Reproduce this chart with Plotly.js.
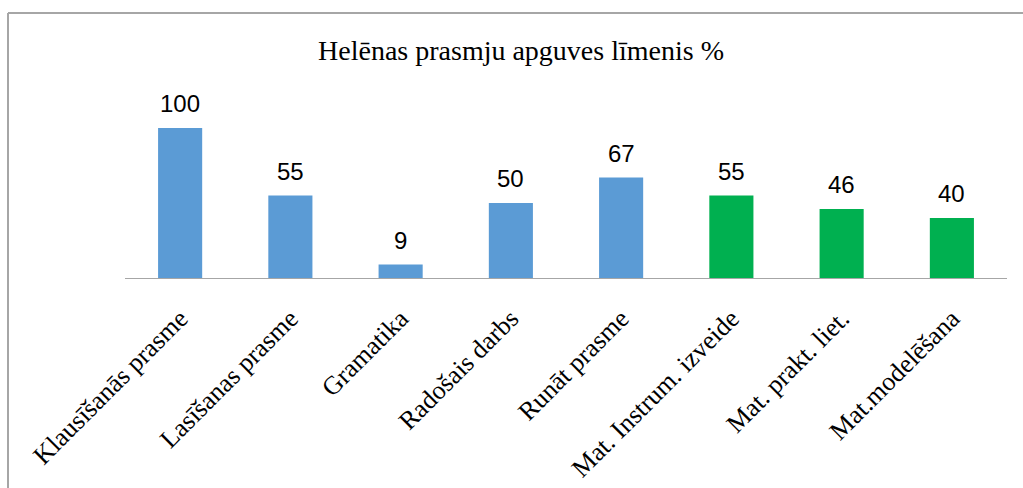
<!DOCTYPE html>
<html>
<head>
<meta charset="utf-8">
<script src="https://cdn.plot.ly/plotly-3.0.1.min.js"></script>
<style>html,body{margin:0;padding:0;background:#fff;}#chart{width:1023px;height:488px;}</style>
</head>
<body>
<div id="chart"></div>
<script>
var categories = ["Klausīšanās prasme", "Lasīšanas prasme", "Gramatika", "Radošais darbs", "Runāt prasme", "Mat. Instrum. izveide", "Mat. prakt. liet.", "Mat.modelēšana"];
var values = [100, 55, 9, 50, 67, 55, 46, 40];
var groups = ["lang", "lang", "lang", "lang", "lang", "math", "math", "math"];
var groupColors = {lang: "#5B9BD5", math: "#00B050"};
var chartTitle = "Helēnas prasmju apguves līmenis %";

var W = 1023, H = 488;
var mL = 125, mR = 16, mT = 98, mB = 210;
var plotW = W - mL - mR, plotH = H - mT - mB;
function px2paperX(px){ return (px - mL) / plotW; }
function px2paperY(py){ return (H - mB - py) / plotH; }

var serif = "'Liberation Serif', 'Times New Roman', Times, serif";
var sans = "'Liberation Sans', Arial, sans-serif";

var trace = {
  type: "bar",
  x: categories,
  y: values,
  marker: {color: groups.map(function(g){ return groupColors[g]; })},
  hoverinfo: "x+y",
  cliponaxis: false
};

var annotations = categories.map(function(c, i){
  return {
    x: c, y: values[i], xref: "x", yref: "y",
    text: String(values[i]),
    showarrow: false,
    yanchor: "bottom",
    yshift: 9,
    font: {family: sans, size: 24, color: "#000"}
  };
});

var layout = {
  width: W, height: H,
  margin: {l: mL, r: mR, t: mT, b: mB, pad: 0},
  paper_bgcolor: "#fff",
  plot_bgcolor: "#fff",
  showlegend: false,
  bargap: 0.6,
  title: {
    text: chartTitle,
    x: 521 / W, xref: "container", xanchor: "center",
    y: 1 - 50 / H, yref: "container", yanchor: "middle",
    font: {family: serif, size: 28, color: "#000"}
  },
  xaxis: {
    type: "category",
    showline: true, linecolor: "#A6A6A6", linewidth: 1,
    ticks: "", showgrid: false, zeroline: false,
    tickangle: -45,
    ticklabelstandoff: 14,
    tickfont: {family: serif, size: 26, color: "#000"}
  },
  yaxis: {
    range: [0, 120],
    visible: false, showgrid: false, zeroline: false, fixedrange: true
  },
  annotations: annotations,
  shapes: [
    {type: "line", xref: "paper", yref: "paper",
     x0: px2paperX(8), x1: px2paperX(8), y0: px2paperY(13), y1: px2paperY(H + 5),
     line: {color: "#A6A6A6", width: 2}},
    {type: "line", xref: "paper", yref: "paper",
     x0: px2paperX(8), x1: px2paperX(W + 5), y0: px2paperY(13), y1: px2paperY(13),
     line: {color: "#A6A6A6", width: 2}}
  ]
};

Plotly.newPlot("chart", [trace], layout, {displayModeBar: false, staticPlot: true});
</script>
</body>
</html>
